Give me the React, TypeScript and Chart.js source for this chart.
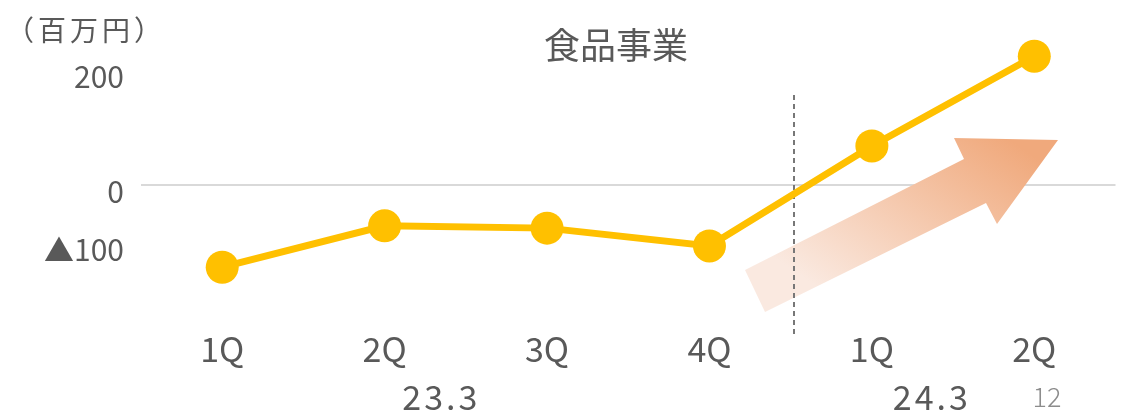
import React, { useEffect, useRef } from "react";
import { Chart, registerables } from "chart.js";

Chart.register(...registerables);

const categories = ["1Q", "2Q", "3Q", "4Q", "1Q", "2Q"];
const profit = [-143, -71, -75, -106, 68, 224];
const yTickValues = [200, 0, -100];
const yTickLabels = ["200", "0", "▲100"];
const fiscalYears = ["23.3", "24.3"];
const fiscalYearIndex = [1.34, 4.36];
const chartTitle = "食品事業";
const unitLabel = "（百万円）";
const pageNumber = "12";

const FONT = "'Noto Sans CJK JP', 'Noto Sans', sans-serif";
const TEXT = "#595959";

const decoPlugin = {
  id: "deco",
  beforeDatasetsDraw(chart: any) {
    const ctx = chart.ctx;
    const xs = chart.scales.x;
    ctx.save();
    // upward arrow decoration
    const pts = [
      [745, 270],
      [964, 159],
      [954, 138],
      [1058, 140],
      [997, 224],
      [986, 203],
      [765, 312],
    ];
    const g = ctx.createLinearGradient(1010, 140, 880, 330);
    g.addColorStop(0, "#F0A97C");
    g.addColorStop(1, "#FAE9E0");
    ctx.beginPath();
    pts.forEach((p, i) => (i === 0 ? ctx.moveTo(p[0], p[1]) : ctx.lineTo(p[0], p[1])));
    ctx.closePath();
    ctx.fillStyle = g;
    ctx.fill();
    // dashed divider between fiscal years
    const dx = Math.round(xs.getPixelForValue(3.5)) + 3;
    ctx.beginPath();
    ctx.setLineDash([5, 4]);
    ctx.strokeStyle = "#777777";
    ctx.lineWidth = 2;
    ctx.moveTo(dx, 95);
    ctx.lineTo(dx, 338);
    ctx.stroke();
    ctx.restore();
  },
  afterDraw(chart: any) {
    const ctx = chart.ctx;
    const xs = chart.scales.x;
    ctx.save();
    ctx.textAlign = "center";
    ctx.textBaseline = "middle";
    ctx.fillStyle = TEXT;
    ctx.font = `36px ${FONT}`;
    ctx.fillText(chartTitle, 616, 45);
    ctx.font = `28px ${FONT}`;
    (ctx as any).letterSpacing = "4px";
    ctx.fillText(unitLabel, 86, 30);
    ctx.font = `34px ${FONT}`;
    (ctx as any).letterSpacing = "3px";
    fiscalYears.forEach((t, i) => {
      ctx.fillText(t, xs.getPixelForValue(fiscalYearIndex[i]) + 1.5, 397);
    });
    (ctx as any).letterSpacing = "0px";
    ctx.font = `300 27px ${FONT}`;
    ctx.fillStyle = "#8c8c8c";
    ctx.fillText(pageNumber, 1047, 397);
    ctx.restore();
  },
};

export default function App() {
  const ref = useRef<HTMLCanvasElement | null>(null);
  useEffect(() => {
    if (!ref.current) return;
    const chart = new Chart(ref.current, {
      type: "line",
      data: {
        labels: categories,
        datasets: [
          {
            data: profit,
            borderColor: "#FFC000",
            backgroundColor: "#FFC000",
            borderWidth: 7,
            pointRadius: 16.5,
            pointHoverRadius: 16.5,
            pointBackgroundColor: "#FFC000",
            pointBorderWidth: 0,
            tension: 0,
            clip: false as any,
          },
        ],
      },
      options: {
        responsive: false,
        animation: false,
        layout: { padding: { top: 24, right: 14, left: 0, bottom: 0 } },
        plugins: {
          legend: { display: false },
          title: { display: false },
          tooltip: { enabled: false },
        },
        scales: {
          x: {
            type: "category",
            offset: true,
            grid: { display: false, drawTicks: false },
            border: { display: false },
            ticks: {
              color: TEXT,
              font: { family: FONT, size: 34 },
              padding: 6,
              maxRotation: 0,
            },
            afterFit: (s: any) => {
              s.height = 90;
              s.paddingLeft = 0;
              s.paddingRight = 0;
            },
          },
          y: {
            type: "linear",
            min: -240,
            max: 280,
            afterBuildTicks: (s: any) => {
              s.ticks = yTickValues.map((v) => ({ value: v }));
            },
            afterFit: (s: any) => {
              s.width = 141;
              s.paddingTop = 0;
              s.paddingBottom = 0;
            },
            grid: {
              drawTicks: false,
              lineWidth: 2,
              color: (c: any) => (c.tick && c.tick.value === 0 ? "#d9d9d9" : "rgba(0,0,0,0)"),
            },
            border: { display: false },
            ticks: {
              color: TEXT,
              font: { family: FONT, size: 30 },
              padding: 17,
              labelOffset: 7,
              callback: (v: any) => {
                const i = yTickValues.indexOf(Number(v));
                return i >= 0 ? yTickLabels[i] : "";
              },
            },
          },
        },
      },
      plugins: [decoPlugin],
    });
    return () => chart.destroy();
  }, []);
  return (
    <div style={{ position: "absolute", left: 0, top: 0, width: 1132, height: 413, background: "#fff" }}>
      <canvas ref={ref} width={1132} height={413} />
    </div>
  );
}
